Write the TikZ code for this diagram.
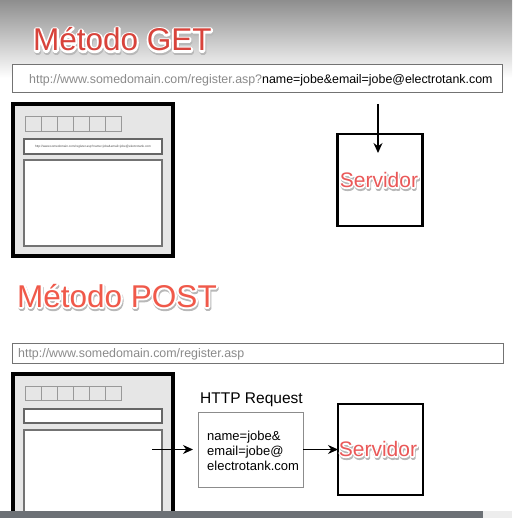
\documentclass[tikz,border=0pt]{standalone}
\usepackage{fontspec}
\setmainfont{Liberation Sans}
\usetikzlibrary{arrows.meta}
\definecolor{getred}{HTML}{D8433B}
\definecolor{postred}{HTML}{F0594A}
\definecolor{srvred}{HTML}{EA5858}
\definecolor{urlgray}{HTML}{8A8A8A}
\definecolor{boxgray}{HTML}{E6E6E6}
\definecolor{bardark}{HTML}{6C7075}
\definecolor{topgray}{HTML}{8E8E8E}
\newcommand{\glowtxt}[4]{% color, size, bold amount, text
  \pgfsetroundjoin\pgfsetroundcap
  \fontsize{#2}{#2}\selectfont
  \rlap{\raisebox{-2pt}{\kern0.8pt{\addfontfeatures{FakeBold=#3}\color{black!28}#4}}}%
  \rlap{{\addfontfeatures{FakeBold=#3}\color{white}#4}}%
  {\color{#1}#4}}
\begin{document}
\begin{tikzpicture}[x=1pt,y=-1pt,
  box/.style={draw, rectangle, inner sep=0pt, outer sep=0pt},
  urlbox/.style={box, draw=black!55, line width=1pt, fill=white},
  browser/.style={box, draw=black, line width=3.5pt, fill=boxgray, minimum width=160pt},
  tabbox/.style={box, draw=black!40, line width=0.8pt, fill=boxgray, minimum width=16pt, minimum height=15pt},
  addr/.style={box, draw=black!60, line width=1.2pt, fill=white, minimum width=138pt},
  content/.style={box, draw=black!55, line width=1.5pt, fill=white, minimum width=138pt},
  server/.style={box, draw=black, line width=2.5pt, fill=white, minimum width=85pt},
  req/.style={box, draw=black!45, line width=1pt, fill=white},
  flow/.style={-{Stealth[length=10pt,width=9pt]}, line width=1.3pt, black},
  label/.style={anchor=base west, inner sep=0pt},
  glow/.style={inner sep=0pt, line join=round}
]
\useasboundingbox (0,0) rectangle (512,518);
\clip (0,0) rectangle (512,518);
\fill[white] (0,0) rectangle (512,518);
\shade[top color=topgray, bottom color=white] (0,0) rectangle (512,78);

% ---------- GET ----------
\node[label, glow] (title1) at (33,51) {\glowtxt{getred}{31.5pt}{12}{Método GET}};
\node[urlbox, minimum width=490pt, minimum height=28pt] (url1) at (257,79) {};
\node[label, font=\fontsize{12.4pt}{14pt}\selectfont] (url1txt) at (29,84)
  {\textcolor{urlgray}{http://www.somedomain.com/register.asp?}name=jobe\&email=jobe@electrotank.com};

\node[browser, minimum height=152pt] (br1) at (93,180) {};
\foreach \i in {0,...,5}
  \node[tabbox] (ta\i) at (33+16*\i,123.5) {};
\node[addr, minimum height=15pt, font=\fontsize{3.1pt}{3.5pt}\selectfont, text=black!70] (addr1) at (93,146.5)
  {http://www.somedomain.com/register.asp?name=jobe\&email=jobe@electrotank.com};
\node[content, minimum height=86pt] (cont1) at (93,203) {};

\node[server, minimum height=92pt] (srv1) at (380,180) {};
\node[glow] (lbl1) at (379,181) {\glowtxt{srvred}{21pt}{13}{Servidor}};
\coordinate (g1) at (378,104);
\coordinate (g2) at (378,153);
\draw[flow] (g1) -- (g2);

% ---------- POST ----------
\node[label, glow] (title2) at (17,307) {\glowtxt{postred}{31.5pt}{12}{Método POST}};
\node[urlbox, minimum width=491pt, minimum height=20pt] (url2) at (257.5,353) {};
\node[label, font=\fontsize{12.4pt}{14pt}\selectfont, text=urlgray] (url2txt) at (18,357)
  {http://www.somedomain.com/register.asp};

\node[browser, minimum height=151pt] (br2) at (93,449.5) {};
\foreach \i in {0,...,5}
  \node[tabbox, minimum height=14pt] (tb\i) at (33+16*\i,393) {};
\node[addr, minimum height=14pt] (addr2) at (93,416) {};
\node[content, minimum height=95pt] (cont2) at (93,477.5) {};

\node[label, font=\fontsize{15.5pt}{18pt}\selectfont] (httplbl) at (200,403) {HTTP Request};
\node[req, minimum width=105pt, minimum height=75pt] (req) at (250.5,449.5) {};
\node[anchor=north west, inner sep=0pt, align=left, font=\fontsize{13pt}{15.2pt}\selectfont] (reqtxt) at (207,430.5)
  {name=jobe\&\\email=jobe@\\electrotank.com};

\node[server, minimum height=91pt] (srv2) at (380.5,449.5) {};
\node[glow] (lbl2) at (378,450) {\glowtxt{srvred}{21pt}{13}{Servidor}};

\coordinate (p1) at (152,449.5);
\draw[flow, shorten >=5pt] (p1) -- (req.west);
\draw[flow] (req.east) -- (srv2.west);

% bottom bar
\fill[bardark] (0,511) rectangle (483,518);
\fill[black!7] (483,511) rectangle (512,518);
\end{tikzpicture}
\end{document}
